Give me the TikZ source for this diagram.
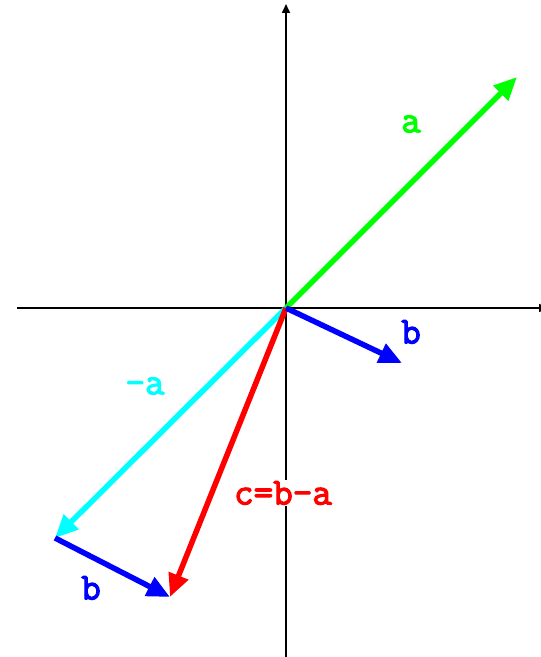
\documentclass[tikz,border=0pt]{standalone}
\usepackage{fontspec}
\newfontfamily\lblfont{Latin Modern Mono}[FakeBold=3]
\usetikzlibrary{arrows.meta}
\definecolor{vgreen}{RGB}{0,255,0}
\definecolor{vblue}{RGB}{0,0,255}
\definecolor{vcyan}{RGB}{0,255,255}
\definecolor{vred}{RGB}{255,0,0}
\tikzset{
  axis/.style={line width=1.6pt, -{Triangle[length=9pt,width=8pt]}},
  vec/.style={line width=5.5pt, -{Triangle[length=23pt,width=20pt]}},
  lbl/.style={font=\lblfont\fontsize{38}{40}\selectfont, inner sep=1pt}
}
\begin{document}
\begin{tikzpicture}[x=1pt,y=1pt]
\useasboundingbox (0,0) rectangle (541,657);
\clip (0,0) rectangle (541,657);
\coordinate (O) at (286,349);
\coordinate (XL) at (17,349);
\coordinate (XR) at (548,349);
\coordinate (YB) at (286,-5);
\coordinate (YT) at (286,653);
\coordinate (A) at (517,580);
\coordinate (B) at (402,294);
\coordinate (NA) at (55,119);
\coordinate (B2) at (170,60);
\draw[axis] (XL) -- (XR);
\draw[axis] (YB) -- (YT);
\draw[vec, vgreen] (O) -- (A);
\draw[vec, vcyan] (O) -- (NA);
\draw[vec, vred] (O) -- (B2);
\draw[vec, vblue] (O) -- (B);
\draw[vec, vblue] (NA) -- (B2);
\node[lbl, text=vgreen] (la) at (411,533) {a};
\node[lbl, text=vblue] (lb) at (411,325) {b};
\node[lbl, text=vcyan] (lna) at (145,271) {-a};
\node[lbl, text=vred, fill=white] (lc) at (283,164) {c=b-a};
\node[lbl, text=vblue] (lb2) at (91,69) {b};
\end{tikzpicture}
\end{document}
